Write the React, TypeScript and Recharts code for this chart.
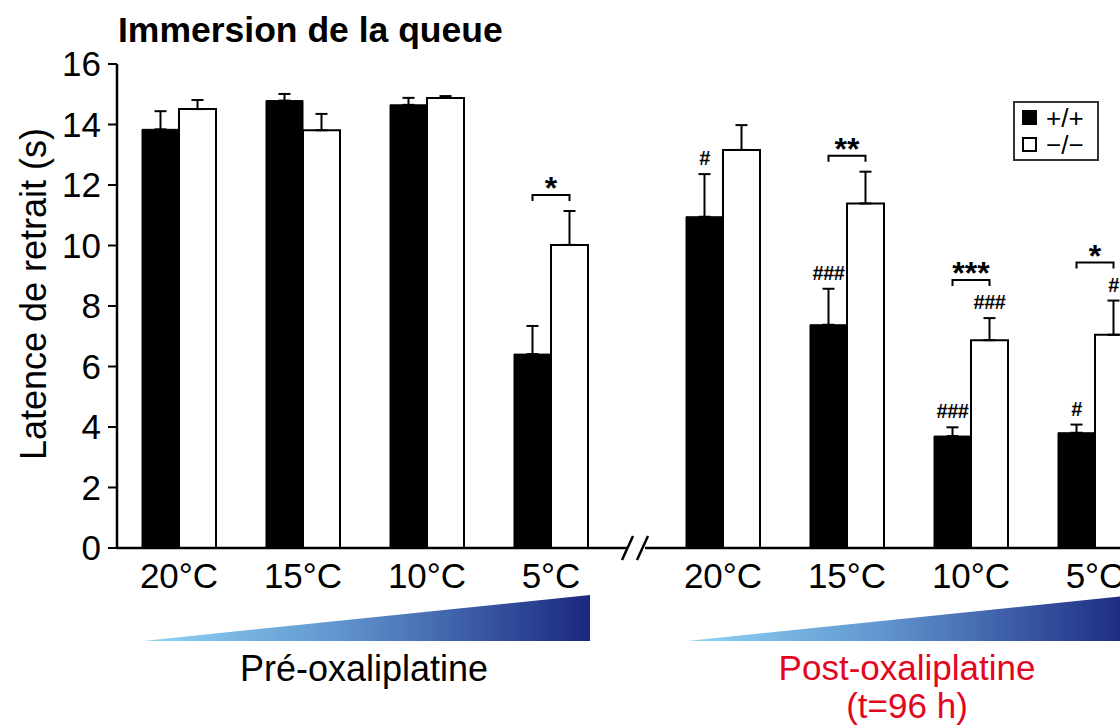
import React from "react"
import { BarChart, Bar, XAxis, YAxis, ErrorBar, LabelList, Legend } from "recharts"

// values (latency in seconds, mean + upper SEM)
const categories = ["20°C", "15°C", "10°C", "5°C"]

const preWild = [13.84, 14.79, 14.65, 6.41]
const preWildErr = [0.6, 0.22, 0.23, 0.93]
const preKo = [14.51, 13.81, 14.88, 10.02]
const preKoErr = [0.3, 0.54, 0.06, 1.12]

const postWild = [10.95, 7.38, 3.7, 3.81]
const postWildErr = [1.41, 1.19, 0.29, 0.27]
const postKo = [13.16, 11.39, 6.87, 7.05]
const postKoErr = [0.82, 1.05, 0.73, 1.13]

// significance marks
const preWildHash = ["", "", "", ""]
const preKoHash = ["", "", "", ""]
const preStars = ["", "", "", "*"]
const postWildHash = ["#", "###", "###", "#"]
const postKoHash = ["", "", "###", "#"]
const postStars = ["", "**", "***", "*"]

const yTicks = [0, 2, 4, 6, 8, 10, 12, 14, 16]

const FONT = "'Liberation Sans', Arial, Helvetica, sans-serif"
const RED = "#e2061f"

const buildRows = (w: number[], we: number[], k: number[], ke: number[]) =>
  categories.map((c, i) => ({
    cat: c,
    wild: w[i],
    wildErr: [0, we[i]],
    ko: k[i],
    koErr: [0, ke[i]],
  }))

const preRows = buildRows(preWild, preWildErr, preKo, preKoErr)
const postRows = buildRows(postWild, postWildErr, postKo, postKoErr)

const box = (p: any) => {
  const vb = p.viewBox && p.viewBox.width !== undefined ? p.viewBox : p
  return { x: Number(vb.x), y: Number(vb.y), width: Number(vb.width), height: Number(vb.height) }
}

// "#" marks sit just above the error bar cap
const hashLabel = (vals: number[], errs: number[], marks: string[]) => (p: any) => {
  const i = p.index
  if (!marks[i]) return null
  const { x, y, width, height } = box(p)
  const ppu = height / vals[i]
  const top = y - errs[i] * ppu
  return (
    <text x={x + width / 2} y={top - 9} textAnchor="middle" fontSize={20} fontWeight="bold"
      fontFamily={FONT} letterSpacing={-0.5} fill="#000">
      {marks[i]}
    </text>
  )
}

// bracket + stars between the two bars of a group (drawn from the white bar)
const starLabel = (
  wv: number[], we: number[], kv: number[], ke: number[], kMarks: string[], stars: string[]
) => (p: any) => {
  const i = p.index
  if (!stars[i]) return null
  const { x, y, width, height } = box(p)
  const ppu = height / kv[i]
  const base = y + height
  const topW = base - (wv[i] + we[i]) * ppu
  const topK = y - ke[i] * ppu
  const by = Math.min(topW, topK) - (kMarks[i] ? 38 : 16)
  const c1 = x - width / 2
  const c2 = x + width / 2
  return (
    <g>
      <path d={`M${c1},${by + 6}V${by}H${c2}V${by + 6}`} fill="none" stroke="#000" strokeWidth={2} />
      <text x={(c1 + c2) / 2} y={by + 4} textAnchor="middle" fontSize={32} fontWeight="bold"
        fontFamily={FONT} fill="#000">
        {stars[i]}
      </text>
    </g>
  )
}

const YLabel = (p: any) => {
  const vb = p.viewBox
  const cx = vb.x + 29
  const cy = vb.y + vb.height / 2 - 12
  return (
    <text x={cx} y={cy} transform={`rotate(-90, ${cx}, ${cy})`} textAnchor="middle"
      fontSize={36} fontFamily={FONT} fill="#000">
      Latence de retrait (s)
    </text>
  )
}

const LegendBox = (p: any) => {
  const items = p.payload || []
  return (
    <div style={{ width: 82, height: 55, border: "2px solid #333", background: "#fff", fontFamily: FONT, boxSizing: "content-box", paddingTop: 1 }}>
      {items.map((it: any, i: number) => (
        <div key={i} style={{ display: "flex", alignItems: "center", height: 27, paddingLeft: 7 }}>
          <span style={{ display: "inline-block", width: 11, height: 11, background: it.color, border: "2px solid #000", marginRight: 9 }} />
          <span style={{ fontSize: 26, lineHeight: "26px", height: 26, color: "#000" }}>{it.value}</span>
        </div>
      ))}
    </div>
  )
}

const tickStyle = { fontSize: 35, fill: "#000", fontFamily: FONT }

function Triangle({ id, x0, x1 }: { id: string; x0: number; x1: number }) {
  return (
    <>
      <defs>
        <linearGradient id={id} x1="0" y1="0" x2="1" y2="0">
          <stop offset="0%" stopColor="#8fd6f5" />
          <stop offset="45%" stopColor="#5f93cd" />
          <stop offset="100%" stopColor="#1b2780" />
        </linearGradient>
      </defs>
      <polygon points={`${x0},641 ${x1},641 ${x1},595`} fill={`url(#${id})`} />
    </>
  )
}

export default function App() {
  return (
    <div style={{ position: "absolute", left: 0, top: 0, width: 1120, height: 726, overflow: "hidden", background: "#fff" }}>
      <div style={{ position: "absolute", left: 0, top: 0 }}>
        <BarChart width={640} height={726} data={preRows} barGap={0} barSize={37}
          margin={{ top: 64, right: 12, bottom: 118, left: 17 }}>
          <XAxis dataKey="cat" height={60} padding={{ left: 0, right: 15 }} tickLine={false}
            tickSize={6} tickMargin={9} axisLine={{ stroke: "#000", strokeWidth: 2.5 }} tick={tickStyle} />
          <YAxis width={100} domain={[0, 16]} ticks={yTicks} interval={0} tickSize={9} tickMargin={7}
            axisLine={{ stroke: "#000", strokeWidth: 2.5 }} tickLine={{ stroke: "#000", strokeWidth: 2 }}
            tick={tickStyle} label={<YLabel />} />
          <Bar dataKey="wild" name="+/+" fill="#000" stroke="#000" strokeWidth={1} isAnimationActive={false}>
            <ErrorBar dataKey="wildErr" direction="y" width={6} stroke="#000" strokeWidth={2} />
            <LabelList dataKey="wild" content={hashLabel(preWild, preWildErr, preWildHash)} />
          </Bar>
          <Bar dataKey="ko" name="−/−" fill="#fff" stroke="#000" strokeWidth={2} isAnimationActive={false}>
            <ErrorBar dataKey="koErr" direction="y" width={6} stroke="#000" strokeWidth={2} />
            <LabelList dataKey="ko" content={hashLabel(preKo, preKoErr, preKoHash)} />
            <LabelList dataKey="ko" content={starLabel(preWild, preWildErr, preKo, preKoErr, preKoHash, preStars)} />
          </Bar>
        </BarChart>
      </div>
      <div style={{ position: "absolute", left: 640, top: 0 }}>
        <BarChart width={540} height={726} data={postRows} barGap={0} barSize={37}
          margin={{ top: 64, right: 23, bottom: 118, left: 5 }}>
          <XAxis dataKey="cat" height={60} padding={{ left: 16, right: 0 }} tickLine={false}
            tickSize={6} tickMargin={9} axisLine={{ stroke: "#000", strokeWidth: 2.5 }} tick={tickStyle} />
          <YAxis hide domain={[0, 16]} ticks={yTicks} />
          <Legend layout="horizontal" verticalAlign="middle" align="center" content={<LegendBox />}
            wrapperStyle={{ left: 373, top: 101, width: 86 }} />
          <Bar dataKey="wild" name="+/+" fill="#000" stroke="#000" strokeWidth={1} isAnimationActive={false}>
            <ErrorBar dataKey="wildErr" direction="y" width={6} stroke="#000" strokeWidth={2} />
            <LabelList dataKey="wild" content={hashLabel(postWild, postWildErr, postWildHash)} />
          </Bar>
          <Bar dataKey="ko" name="−/−" fill="#fff" stroke="#000" strokeWidth={2} isAnimationActive={false}>
            <ErrorBar dataKey="koErr" direction="y" width={6} stroke="#000" strokeWidth={2} />
            <LabelList dataKey="ko" content={hashLabel(postKo, postKoErr, postKoHash)} />
            <LabelList dataKey="ko" content={starLabel(postWild, postWildErr, postKo, postKoErr, postKoHash, postStars)} />
          </Bar>
        </BarChart>
      </div>
      <svg width={1120} height={726} style={{ position: "absolute", left: 0, top: 0, pointerEvents: "none" }}>
        <text x={118} y={42} fontSize={35.5} fontWeight="bold" fontFamily={FONT} fill="#000">Immersion de la queue</text>
        {/* axis break */}
        <rect x={629} y={540} width={15} height={14} fill="#fff" />
        <line x1={622} y1={560} x2={633} y2={536} stroke="#000" strokeWidth={2.5} />
        <line x1={637} y1={560} x2={648} y2={536} stroke="#000" strokeWidth={2.5} />
        <Triangle id="gPre" x0={143} x1={590} />
        <Triangle id="gPost" x0={687} x1={1134} />
        <text x={364} y={681} textAnchor="middle" fontSize={36} fontFamily={FONT} fill="#000">Pré-oxaliplatine</text>
        <text x={907} y={680} textAnchor="middle" fontSize={35} fontFamily={FONT} fill={RED}>Post-oxaliplatine</text>
        <text x={907} y={718} textAnchor="middle" fontSize={35} fontFamily={FONT} fill={RED}>(t=96 h)</text>
      </svg>
    </div>
  )
}
